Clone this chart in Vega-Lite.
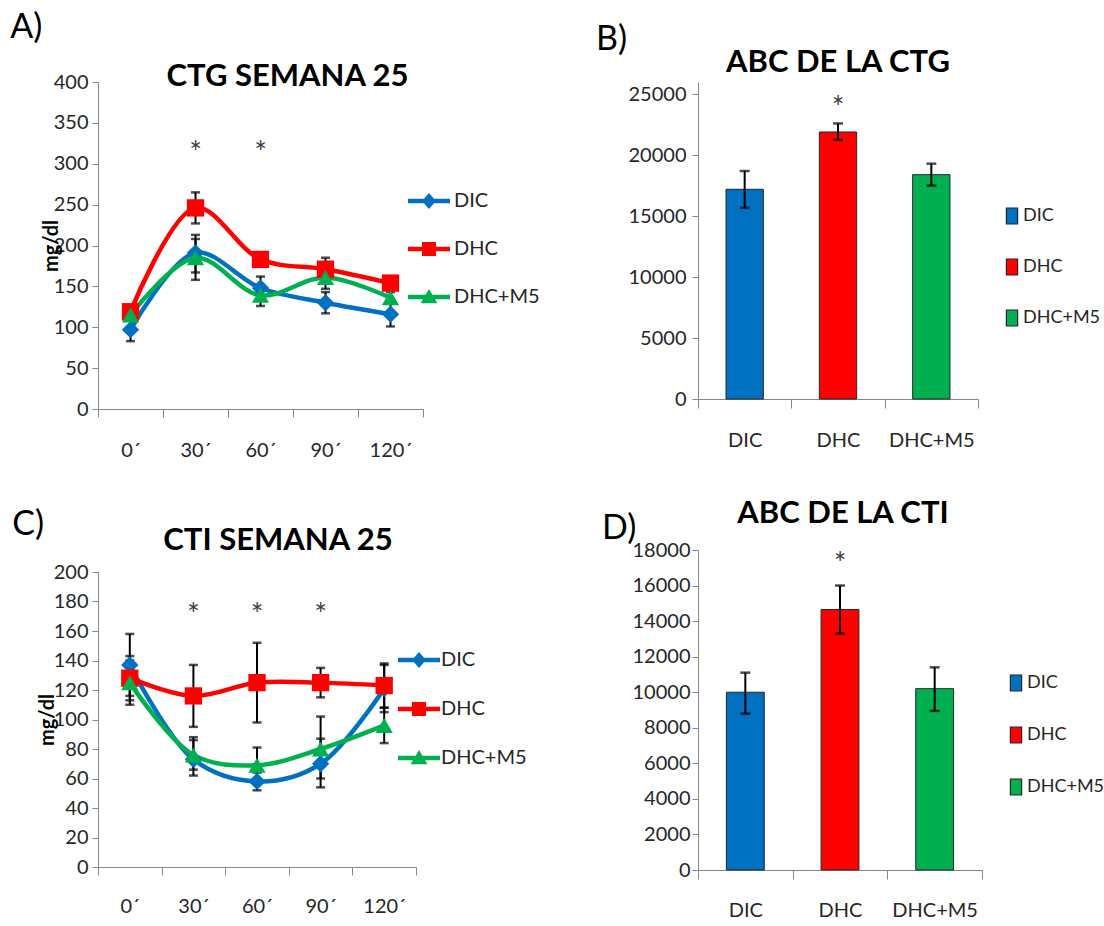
{
  "$schema": "https://vega.github.io/schema/vega-lite/v6.json",
  "background": "white",
  "padding": {"left": 10, "top": 11, "right": 0, "bottom": 0},
  "spacing": 56,
  "resolve": {"scale": {"color": "independent", "shape": "independent"}, "legend": {"color": "independent", "shape": "independent"}},
  "hconcat": [
    {
      "spacing": 48,
      "resolve": {"scale": {"color": "independent", "shape": "independent"}, "legend": {"color": "independent", "shape": "independent"}},
      "vconcat": [
        {
          "title": {"text": "A)", "anchor": "start", "frame": "bounds", "fontSize": 34, "fontWeight": "normal", "baseline": "alphabetic", "offset": -11, "dx": -31},
          "resolve": {"scale": {"color": "independent", "shape": "independent"}, "legend": {"color": "independent", "shape": "independent"}},
          "vconcat": [
            {
              "width": 325,
              "height": 327,
              "title": {"text": "CTG SEMANA 25", "anchor": "middle", "frame": "group", "fontSize": 31, "fontWeight": "bold", "baseline": "alphabetic", "offset": -45, "dx": 27},
              "data": {"name": "ctg"},
              "layer": [
                {
                  "mark": {"type": "rule", "color": "#000000", "strokeWidth": 2},
                  "encoding": {
                    "x": {"field": "time", "type": "ordinal", "bandPosition": 0.5, "title": null, "scale": {"type": "band", "domain": ["0´", "30´", "60´", "90´", "120´"], "paddingInner": 0, "paddingOuter": 0}, "axis": {"labelAngle": 0, "tickBand": "extent", "tickSize": 8, "labelPadding": 23, "labelBaseline": "top"}},
                    "y": {"field": "lo", "type": "quantitative", "title": "mg/dl", "scale": {"domain": [0, 400]}, "axis": {"values": [0, 50, 100, 150, 200, 250, 300, 350, 400], "tickCount": 20, "labelOverlap": false, "tickSize": 6, "labelPadding": 4, "titleFontWeight": "bold", "titlePadding": -8}},
                    "y2": {"field": "hi"}
                  }
                },
                {
                  "mark": {"type": "tick", "orient": "horizontal", "color": "#000000", "size": 9, "thickness": 2.5},
                  "encoding": {"x": {"field": "time", "type": "ordinal", "bandPosition": 0.5, "title": null}, "y": {"field": "lo", "type": "quantitative", "title": "mg/dl"}}
                },
                {
                  "mark": {"type": "tick", "orient": "horizontal", "color": "#000000", "size": 9, "thickness": 2.5},
                  "encoding": {"x": {"field": "time", "type": "ordinal", "bandPosition": 0.5, "title": null}, "y": {"field": "hi", "type": "quantitative", "title": "mg/dl"}}
                },
                {
                  "mark": {"type": "line", "strokeWidth": 4.5, "interpolate": "catmull-rom"},
                  "encoding": {
                    "x": {"field": "time", "type": "ordinal", "bandPosition": 0.5, "title": null},
                    "y": {"field": "mean", "type": "quantitative", "title": "mg/dl"},
                    "color": {"field": "series", "type": "nominal", "scale": {"domain": ["DIC", "DHC", "DHC+M5"], "range": ["#0070C0", "#FF0000", "#00B050"]}}
                  }
                },
                {
                  "transform": [{"filter": {"field": "series", "equal": "DIC"}}],
                  "mark": {"type": "point", "shape": "diamond", "filled": true, "opacity": 1, "size": 300},
                  "encoding": {"x": {"field": "time", "type": "ordinal", "bandPosition": 0.5, "title": null}, "y": {"field": "mean", "type": "quantitative", "title": "mg/dl"}, "color": {"field": "series", "type": "nominal"}}
                },
                {
                  "transform": [{"filter": {"field": "series", "equal": "DHC"}}],
                  "mark": {"type": "point", "shape": "square", "filled": true, "opacity": 1, "size": 300},
                  "encoding": {"x": {"field": "time", "type": "ordinal", "bandPosition": 0.5, "title": null}, "y": {"field": "mean", "type": "quantitative", "title": "mg/dl"}, "color": {"field": "series", "type": "nominal"}}
                },
                {
                  "transform": [{"filter": {"field": "series", "equal": "DHC+M5"}}],
                  "mark": {"type": "point", "shape": "triangle-up", "filled": true, "opacity": 1, "size": 300},
                  "encoding": {"x": {"field": "time", "type": "ordinal", "bandPosition": 0.5, "title": null}, "y": {"field": "mean", "type": "quantitative", "title": "mg/dl"}, "color": {"field": "series", "type": "nominal"}}
                },
                {
                  "data": {"values": []},
                  "mark": {"type": "point", "filled": true, "opacity": 1},
                  "encoding": {
                    "color": {"field": "series", "type": "nominal", "legend": {"orient": "none", "legendX": 321, "legendY": 109, "title": null, "padding": 0, "symbolSize": 196, "symbolStrokeWidth": 0, "symbolOpacity": 1, "labelOffset": 15, "rowPadding": 28, "labelFontSize": 20}},
                    "shape": {"field": "series", "type": "nominal", "scale": {"domain": ["DIC", "DHC", "DHC+M5"], "range": ["M-3,-0.33H3V0.33H-3Z M0,-1.15L1,0L0,1.15L-1,0Z", "M-3,-0.33H3V0.33H-3Z M-1,-1H1V1H-1Z", "M-3,-0.33H3V0.33H-3Z M0,-1.15L1.2,0.9H-1.2Z"]}, "legend": {"orient": "none", "legendX": 321, "legendY": 109, "title": null, "padding": 0, "symbolSize": 196, "symbolStrokeWidth": 0, "symbolOpacity": 1, "labelOffset": 15, "rowPadding": 28, "labelFontSize": 20}}
                  }
                },
                {
                  "data": {"name": "stars_ctg"},
                  "mark": {"type": "text", "text": "*", "fontSize": 30, "color": "#404040", "baseline": "middle", "dy": 7},
                  "encoding": {"x": {"field": "time", "type": "ordinal", "bandPosition": 0.5, "title": null}, "y": {"field": "y", "type": "quantitative", "title": "mg/dl"}}
                }
              ]
            }
          ]
        },
        {
          "title": {"text": "C)", "anchor": "start", "frame": "bounds", "fontSize": 34, "fontWeight": "normal", "baseline": "alphabetic", "offset": -44, "dx": -25},
          "resolve": {"scale": {"color": "independent", "shape": "independent"}, "legend": {"color": "independent", "shape": "independent"}},
          "vconcat": [
            {
              "width": 318,
              "height": 295,
              "title": {"text": "CTI SEMANA 25", "anchor": "middle", "frame": "group", "fontSize": 31, "fontWeight": "bold", "baseline": "alphabetic", "offset": -19, "dx": 21},
              "data": {"name": "cti"},
              "layer": [
                {
                  "mark": {"type": "rule", "color": "#000000", "strokeWidth": 2},
                  "encoding": {
                    "x": {"field": "time", "type": "ordinal", "bandPosition": 0.5, "title": null, "scale": {"type": "band", "domain": ["0´", "30´", "60´", "90´", "120´"], "paddingInner": 0, "paddingOuter": 0}, "axis": {"labelAngle": 0, "tickBand": "extent", "tickSize": 8, "labelPadding": 21, "labelBaseline": "top"}},
                    "y": {"field": "lo", "type": "quantitative", "title": "mg/dl", "scale": {"domain": [0, 200]}, "axis": {"values": [0, 20, 40, 60, 80, 100, 120, 140, 160, 180, 200], "tickCount": 20, "labelOverlap": false, "tickSize": 6, "labelPadding": 4, "titleFontWeight": "bold", "titlePadding": -4}},
                    "y2": {"field": "hi"}
                  }
                },
                {
                  "mark": {"type": "tick", "orient": "horizontal", "color": "#000000", "size": 9, "thickness": 2.5},
                  "encoding": {"x": {"field": "time", "type": "ordinal", "bandPosition": 0.5, "title": null}, "y": {"field": "lo", "type": "quantitative", "title": "mg/dl"}}
                },
                {
                  "mark": {"type": "tick", "orient": "horizontal", "color": "#000000", "size": 9, "thickness": 2.5},
                  "encoding": {"x": {"field": "time", "type": "ordinal", "bandPosition": 0.5, "title": null}, "y": {"field": "hi", "type": "quantitative", "title": "mg/dl"}}
                },
                {
                  "mark": {"type": "line", "strokeWidth": 4.5, "interpolate": "catmull-rom"},
                  "encoding": {
                    "x": {"field": "time", "type": "ordinal", "bandPosition": 0.5, "title": null},
                    "y": {"field": "mean", "type": "quantitative", "title": "mg/dl"},
                    "color": {"field": "series", "type": "nominal", "scale": {"domain": ["DIC", "DHC", "DHC+M5"], "range": ["#0070C0", "#FF0000", "#00B050"]}}
                  }
                },
                {
                  "transform": [{"filter": {"field": "series", "equal": "DIC"}}],
                  "mark": {"type": "point", "shape": "diamond", "filled": true, "opacity": 1, "size": 300},
                  "encoding": {"x": {"field": "time", "type": "ordinal", "bandPosition": 0.5, "title": null}, "y": {"field": "mean", "type": "quantitative", "title": "mg/dl"}, "color": {"field": "series", "type": "nominal"}}
                },
                {
                  "transform": [{"filter": {"field": "series", "equal": "DHC"}}],
                  "mark": {"type": "point", "shape": "square", "filled": true, "opacity": 1, "size": 300},
                  "encoding": {"x": {"field": "time", "type": "ordinal", "bandPosition": 0.5, "title": null}, "y": {"field": "mean", "type": "quantitative", "title": "mg/dl"}, "color": {"field": "series", "type": "nominal"}}
                },
                {
                  "transform": [{"filter": {"field": "series", "equal": "DHC+M5"}}],
                  "mark": {"type": "point", "shape": "triangle-up", "filled": true, "opacity": 1, "size": 300},
                  "encoding": {"x": {"field": "time", "type": "ordinal", "bandPosition": 0.5, "title": null}, "y": {"field": "mean", "type": "quantitative", "title": "mg/dl"}, "color": {"field": "series", "type": "nominal"}}
                },
                {
                  "data": {"values": []},
                  "mark": {"type": "point", "filled": true, "opacity": 1},
                  "encoding": {
                    "color": {"field": "series", "type": "nominal", "legend": {"orient": "none", "legendX": 311, "legendY": 78, "title": null, "padding": 0, "symbolSize": 196, "symbolStrokeWidth": 0, "symbolOpacity": 1, "labelOffset": 12, "rowPadding": 29, "labelFontSize": 20}},
                    "shape": {"field": "series", "type": "nominal", "scale": {"domain": ["DIC", "DHC", "DHC+M5"], "range": ["M-3,-0.33H3V0.33H-3Z M0,-1.15L1,0L0,1.15L-1,0Z", "M-3,-0.33H3V0.33H-3Z M-1,-1H1V1H-1Z", "M-3,-0.33H3V0.33H-3Z M0,-1.15L1.2,0.9H-1.2Z"]}, "legend": {"orient": "none", "legendX": 311, "legendY": 78, "title": null, "padding": 0, "symbolSize": 196, "symbolStrokeWidth": 0, "symbolOpacity": 1, "labelOffset": 12, "rowPadding": 29, "labelFontSize": 20}}
                  }
                },
                {
                  "data": {"name": "stars_cti"},
                  "mark": {"type": "text", "text": "*", "fontSize": 30, "color": "#404040", "baseline": "middle", "dy": 7},
                  "encoding": {"x": {"field": "time", "type": "ordinal", "bandPosition": 0.5, "title": null}, "y": {"field": "y", "type": "quantitative", "title": "mg/dl"}}
                }
              ]
            }
          ]
        }
      ]
    },
    {
      "spacing": 48,
      "resolve": {"scale": {"color": "independent", "shape": "independent"}, "legend": {"color": "independent", "shape": "independent"}},
      "vconcat": [
        {
          "title": {"text": "B)", "anchor": "start", "frame": "bounds", "fontSize": 34, "fontWeight": "normal", "baseline": "alphabetic", "offset": -37, "dx": -32},
          "resolve": {"scale": {"color": "independent"}, "legend": {"color": "independent"}},
          "vconcat": [
            {
              "width": 280,
              "height": 317,
              "title": {"text": "ABC DE LA CTG", "anchor": "middle", "frame": "group", "fontSize": 31, "fontWeight": "bold", "baseline": "alphabetic", "offset": -21},
              "data": {"name": "abc_ctg"},
              "layer": [
                {
                  "mark": {"type": "bar", "width": {"band": 0.4}, "stroke": "#262626", "strokeWidth": 1},
                  "encoding": {
                    "x": {"field": "group", "type": "nominal", "title": null, "scale": {"type": "band", "domain": ["DIC", "DHC", "DHC+M5"], "paddingInner": 0, "paddingOuter": 0}, "axis": {"labelAngle": 0, "tickBand": "extent", "tickSize": 9, "labelPadding": 22, "labelBaseline": "top"}},
                    "y": {"field": "mean", "type": "quantitative", "title": null, "scale": {"domain": [0, 25000]}, "axis": {"values": [0, 5000, 10000, 15000, 20000, 25000], "tickCount": 20, "labelOverlap": false, "format": "d", "tickSize": 6, "labelPadding": 6}},
                    "color": {
                      "field": "group", "type": "nominal",
                      "scale": {"domain": ["DIC", "DHC", "DHC+M5"], "range": ["#0070C0", "#FF0000", "#00B050"]},
                      "legend": {"orient": "none", "legendX": 305, "legendY": 125, "title": null, "padding": 0, "symbolType": "M-0.7,-1H0.7V1H-0.7Z", "symbolSize": 256, "symbolStrokeColor": "#262626", "symbolStrokeWidth": 1.2, "labelOffset": 2, "rowPadding": 29, "labelFontSize": 18}
                    }
                  }
                },
                {
                  "mark": {"type": "rule", "color": "#000000", "strokeWidth": 2},
                  "encoding": {"x": {"field": "group", "type": "nominal", "title": null}, "y": {"field": "lo", "type": "quantitative", "title": null}, "y2": {"field": "hi"}}
                },
                {
                  "mark": {"type": "tick", "orient": "horizontal", "color": "#000000", "size": 10, "thickness": 2.5},
                  "encoding": {"x": {"field": "group", "type": "nominal", "title": null}, "y": {"field": "lo", "type": "quantitative", "title": null}}
                },
                {
                  "mark": {"type": "tick", "orient": "horizontal", "color": "#000000", "size": 10, "thickness": 2.5},
                  "encoding": {"x": {"field": "group", "type": "nominal", "title": null}, "y": {"field": "hi", "type": "quantitative", "title": null}}
                },
                {
                  "data": {"name": "star_abc_ctg"},
                  "mark": {"type": "text", "text": "*", "fontSize": 30, "color": "#404040", "baseline": "middle", "dy": 7},
                  "encoding": {"x": {"field": "group", "type": "nominal", "title": null}, "y": {"field": "y", "type": "quantitative", "title": null}}
                }
              ]
            }
          ]
        },
        {
          "title": {"text": "D)", "anchor": "start", "frame": "bounds", "fontSize": 34, "fontWeight": "normal", "baseline": "alphabetic", "offset": -75, "dx": -30},
          "resolve": {"scale": {"color": "independent"}, "legend": {"color": "independent"}},
          "vconcat": [
            {
              "width": 284,
              "height": 320,
              "title": {"text": "ABC DE LA CTI", "anchor": "middle", "frame": "group", "fontSize": 31, "fontWeight": "bold", "baseline": "alphabetic", "offset": -14, "dx": 3},
              "data": {"name": "abc_cti"},
              "layer": [
                {
                  "mark": {"type": "bar", "width": {"band": 0.4}, "stroke": "#262626", "strokeWidth": 1},
                  "encoding": {
                    "x": {"field": "group", "type": "nominal", "title": null, "scale": {"type": "band", "domain": ["DIC", "DHC", "DHC+M5"], "paddingInner": 0, "paddingOuter": 0}, "axis": {"labelAngle": 0, "tickBand": "extent", "tickSize": 9, "labelPadding": 21, "labelBaseline": "top"}},
                    "y": {"field": "mean", "type": "quantitative", "title": null, "scale": {"domain": [0, 18000]}, "axis": {"values": [0, 2000, 4000, 6000, 8000, 10000, 12000, 14000, 16000, 18000], "tickCount": 20, "labelOverlap": false, "format": "d", "tickSize": 6, "labelPadding": 2}},
                    "color": {
                      "field": "group", "type": "nominal",
                      "scale": {"domain": ["DIC", "DHC", "DHC+M5"], "range": ["#0070C0", "#FF0000", "#00B050"]},
                      "legend": {"orient": "none", "legendX": 309, "legendY": 124, "title": null, "padding": 0, "symbolType": "M-0.7,-1H0.7V1H-0.7Z", "symbolSize": 256, "symbolStrokeColor": "#262626", "symbolStrokeWidth": 1.2, "labelOffset": 2, "rowPadding": 30, "labelFontSize": 18}
                    }
                  }
                },
                {
                  "mark": {"type": "rule", "color": "#000000", "strokeWidth": 2},
                  "encoding": {"x": {"field": "group", "type": "nominal", "title": null}, "y": {"field": "lo", "type": "quantitative", "title": null}, "y2": {"field": "hi"}}
                },
                {
                  "mark": {"type": "tick", "orient": "horizontal", "color": "#000000", "size": 10, "thickness": 2.5},
                  "encoding": {"x": {"field": "group", "type": "nominal", "title": null}, "y": {"field": "lo", "type": "quantitative", "title": null}}
                },
                {
                  "mark": {"type": "tick", "orient": "horizontal", "color": "#000000", "size": 10, "thickness": 2.5},
                  "encoding": {"x": {"field": "group", "type": "nominal", "title": null}, "y": {"field": "hi", "type": "quantitative", "title": null}}
                },
                {
                  "data": {"name": "star_abc_cti"},
                  "mark": {"type": "text", "text": "*", "fontSize": 30, "color": "#404040", "baseline": "middle", "dy": 7},
                  "encoding": {"x": {"field": "group", "type": "nominal", "title": null}, "y": {"field": "y", "type": "quantitative", "title": null}}
                }
              ]
            }
          ]
        }
      ]
    }
  ],
  "datasets": {
    "ctg": [
      {"time": "0´", "series": "DIC", "mean": 97, "lo": 83, "hi": 111},
      {"time": "30´", "series": "DIC", "mean": 191, "lo": 167, "hi": 213},
      {"time": "60´", "series": "DIC", "mean": 148, "lo": 136, "hi": 162},
      {"time": "90´", "series": "DIC", "mean": 130, "lo": 117, "hi": 143},
      {"time": "120´", "series": "DIC", "mean": 116, "lo": 101, "hi": 131},
      {"time": "0´", "series": "DHC", "mean": 119, "lo": 112, "hi": 126},
      {"time": "30´", "series": "DHC", "mean": 246, "lo": 227, "hi": 265},
      {"time": "60´", "series": "DHC", "mean": 183, "lo": 177, "hi": 189},
      {"time": "90´", "series": "DHC", "mean": 171, "lo": 157, "hi": 185},
      {"time": "120´", "series": "DHC", "mean": 154, "lo": 148, "hi": 160},
      {"time": "0´", "series": "DHC+M5", "mean": 115, "lo": 108, "hi": 122},
      {"time": "30´", "series": "DHC+M5", "mean": 185, "lo": 158, "hi": 208},
      {"time": "60´", "series": "DHC+M5", "mean": 139, "lo": 126, "hi": 152},
      {"time": "90´", "series": "DHC+M5", "mean": 161, "lo": 147, "hi": 175},
      {"time": "120´", "series": "DHC+M5", "mean": 136, "lo": 129, "hi": 143}
    ],
    "cti": [
      {"time": "0´", "series": "DIC", "mean": 137, "lo": 116, "hi": 158},
      {"time": "30´", "series": "DIC", "mean": 73, "lo": 62, "hi": 86},
      {"time": "60´", "series": "DIC", "mean": 58, "lo": 52, "hi": 64},
      {"time": "90´", "series": "DIC", "mean": 70, "lo": 54, "hi": 87},
      {"time": "120´", "series": "DIC", "mean": 121, "lo": 105, "hi": 137},
      {"time": "0´", "series": "DHC", "mean": 128, "lo": 113, "hi": 143},
      {"time": "30´", "series": "DHC", "mean": 116, "lo": 95, "hi": 137},
      {"time": "60´", "series": "DHC", "mean": 125, "lo": 98, "hi": 152},
      {"time": "90´", "series": "DHC", "mean": 125, "lo": 115, "hi": 135},
      {"time": "120´", "series": "DHC", "mean": 123, "lo": 108, "hi": 138},
      {"time": "0´", "series": "DHC+M5", "mean": 125, "lo": 110, "hi": 140},
      {"time": "30´", "series": "DHC+M5", "mean": 76, "lo": 66, "hi": 88},
      {"time": "60´", "series": "DHC+M5", "mean": 69, "lo": 58, "hi": 81},
      {"time": "90´", "series": "DHC+M5", "mean": 80, "lo": 60, "hi": 102},
      {"time": "120´", "series": "DHC+M5", "mean": 96, "lo": 84, "hi": 108}
    ],
    "stars_ctg": [
      {"time": "30´", "y": 320},
      {"time": "60´", "y": 320}
    ],
    "stars_cti": [
      {"time": "30´", "y": 175},
      {"time": "60´", "y": 175},
      {"time": "90´", "y": 175}
    ],
    "abc_ctg": [
      {"group": "DIC", "mean": 17200, "lo": 15680, "hi": 18700},
      {"group": "DHC", "mean": 21900, "lo": 21250, "hi": 22600},
      {"group": "DHC+M5", "mean": 18400, "lo": 17500, "hi": 19300}
    ],
    "abc_cti": [
      {"group": "DIC", "mean": 10000, "lo": 8800, "hi": 11100},
      {"group": "DHC", "mean": 14650, "lo": 13300, "hi": 16000},
      {"group": "DHC+M5", "mean": 10200, "lo": 8950, "hi": 11400}
    ],
    "star_abc_ctg": [
      {"group": "DHC", "y": 24400}
    ],
    "star_abc_cti": [
      {"group": "DHC", "y": 17550}
    ]
  },
  "config": {
    "view": {"stroke": null},
    "font": "Lato",
    "title": {"font": "Lato", "color": "#000000"},
    "axis": {
      "grid": false,
      "labelOverlap": false,
      "domainColor": "#868686",
      "tickColor": "#868686",
      "domainWidth": 1,
      "tickWidth": 1,
      "labelFont": "Lato",
      "labelFontSize": 20,
      "labelColor": "#262626",
      "titleFont": "Lato",
      "titleFontSize": 20,
      "titleColor": "#000000"
    },
    "legend": {"labelFont": "Lato", "labelColor": "#262626"}
  }
}
